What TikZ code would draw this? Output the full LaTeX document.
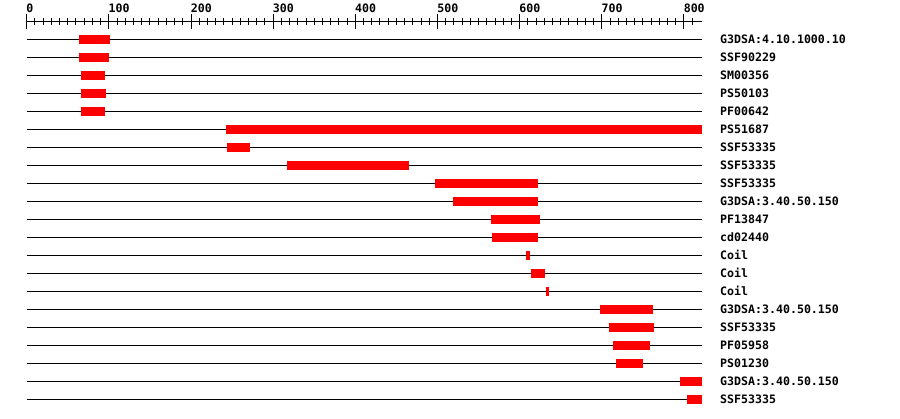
\documentclass[tikz,border=0pt]{standalone}
\usepackage{fontspec}
\setmonofont{DejaVu Sans Mono}
\begin{document}
\begin{tikzpicture}[x=1pt,y=-1pt,
  track/.style={draw=black,line width=1pt},
  hit/.style={fill=red,draw=none},
  tick/.style={draw=black,line width=1pt},
  lbl/.style={font=\ttfamily\bfseries\fontsize{11.6}{12}\selectfont,anchor=base west,inner sep=0pt,text=black},
  rlbl/.style={font=\ttfamily\bfseries\fontsize{11.6}{12}\selectfont,anchor=base west,inner sep=0pt,text=black}]
\useasboundingbox (0,0) rectangle (900,418);
\fill[white] (0,0) rectangle (900,418);
% ruler
\coordinate (r0) at (26.7,21.7);
\coordinate (r1) at (702,21.7);
\draw[tick] (r0) -- (r1);
\foreach \v in {0,10,...,810}{
  \draw[tick] ({26.7+0.8216*\v},18.3) -- ({26.7+0.8216*\v},25);
}
\foreach \v in {0,100,...,800}{
  \draw[tick] ({26.7+0.8216*\v},14) -- ({26.7+0.8216*\v},29);
  \node[rlbl] (rl\v) at ({26.3+0.8216*\v},12.7) {\v};
}
% tracks
\foreach \a/\b/\t [count=\i from 0] in {
  79/110/G3DSA:4.10.1000.10,
  79/109/SSF90229,
  81/105/SM00356,
  81/106/PS50103,
  81/105/PF00642,
  226/702/PS51687,
  227/250/SSF53335,
  287/409/SSF53335,
  435/538/SSF53335,
  453/538/G3DSA:3.40.50.150,
  491/540/PF13847,
  492/538/cd02440,
  526/530/Coil,
  531/545/Coil,
  546/549/Coil,
  600/653/G3DSA:3.40.50.150,
  609/654/SSF53335,
  613/650/PF05958,
  616/643/PS01230,
  680/702/G3DSA:3.40.50.150,
  687/702/SSF53335}{
  \coordinate (s\i) at (26.7,{39.3+18*\i});
  \coordinate (e\i) at (702,{39.3+18*\i});
  \draw[track] (s\i) -- (e\i);
  \fill[hit] (\a,{39.3+18*\i-4.5}) rectangle (\b,{39.3+18*\i+4.5});
  \node[lbl] (t\i) at (720,{39.3+18*\i+4.1}) {\t};
}
\end{tikzpicture}
\end{document}
